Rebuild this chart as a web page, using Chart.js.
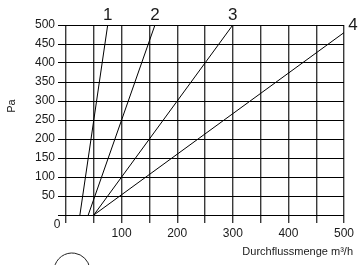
<!DOCTYPE html>
<html>
<head>
<meta charset="utf-8">
<script src="https://cdn.jsdelivr.net/npm/chart.js@4.4.1/dist/chart.umd.min.js"></script>
<style>
  html, body { margin: 0; padding: 0; background: #fff; }
  #wrap { width: 359px; height: 265px; position: relative; }
</style>
</head>
<body>
<div id="wrap"><canvas id="myChart"></canvas></div>
<script>
const lineNames = ['1', '2', '3', '4'];
// Durchflussmenge (m³/h) at start and end of each line
const flowStart = [25, 40, 50, 50];
const flowEnd = [75, 160, 300, 500];
// Pressure (Pa) at start and end of each line
const paStart = [0, 0, 0, 0];
const paEnd = [500, 500, 500, 480];

const xTicks = [100, 200, 300, 400, 500];
const yTicks = [50, 100, 150, 200, 250, 300, 350, 400, 450, 500];

const textColor = '#1a1a1a';
const fontFamily = 'Liberation Sans, Arial, sans-serif';

const datasets = lineNames.map(function(name, i) {
    return {
        label: name,
        data: [{x: flowStart[i], y: paStart[i]}, {x: flowEnd[i], y: paEnd[i]}],
        showLine: true,
        borderColor: '#000',
        borderWidth: 1,
        pointRadius: 0,
    };
});

const extraText = {
    id: 'extraText',
    afterDraw(chart) {
        const ctx = chart.ctx;
        const xs = chart.scales.x;
        const ys = chart.scales.y;
        ctx.save();
        ctx.fillStyle = textColor;
        // line numbers at the upper ends
        ctx.font = '17px ' + fontFamily;
        ctx.textAlign = 'center';
        ctx.textBaseline = 'middle';
        lineNames.forEach(function(name, i) {
            var px = xs.getPixelForValue(flowEnd[i]);
            var py = ys.getPixelForValue(paEnd[i]);
            if (flowEnd[i] >= 500) {
                ctx.fillText(name, px + 9, py - 7);
            } else {
                ctx.fillText(name, px, py - 10);
            }
        });
        // origin label
        ctx.font = '12px ' + fontFamily;
        ctx.fillText('0', xs.left - 9, ys.bottom + 10);
        // axis titles
        ctx.font = '11px ' + fontFamily;
        ctx.textAlign = 'right';
        ctx.fillText('Durchflussmenge m³/h', 353, 252);
        ctx.save();
        ctx.translate(12, 106);
        ctx.rotate(-Math.PI / 2);
        ctx.textAlign = 'center';
        ctx.fillText('Pa', 0, 0);
        ctx.restore();
        // partial circle at the bottom edge
        ctx.strokeStyle = '#222';
        ctx.lineWidth = 1;
        ctx.beginPath();
        ctx.arc(72, 271, 18, Math.PI * 1.05, Math.PI * 1.95);
        ctx.stroke();
        ctx.restore();
    }
};

new Chart('myChart', {
    type: 'scatter',
    data: { datasets: datasets },
    options: {
        responsive: true,
        maintainAspectRatio: false,
        animation: false,
        layout: { padding: { top: 25, right: 15, left: 0, bottom: 0 } },
        plugins: {
            legend: { display: false },
            tooltip: { enabled: false }
        },
        scales: {
            x: {
                type: 'linear',
                min: 0,
                max: 500,
                afterFit: function(scale) { scale.height = 50; },
                afterBuildTicks: function(scale) {
                    var t = [];
                    for (var v = 0; v <= 500; v += 50) t.push({value: v});
                    scale.ticks = t;
                },
                ticks: {
                    color: textColor,
                    font: { family: fontFamily, size: 12 },
                    padding: 3,
                    maxRotation: 0,
                    autoSkip: false,
                    callback: function(v) { return xTicks.includes(v) ? String(v) : ''; }
                },
                grid: {
                    color: '#3a3a3a',
                    lineWidth: 1.4,
                    tickLength: 8,
                },
                border: { display: false }
            },
            y: {
                type: 'linear',
                min: 0,
                max: 500,
                afterFit: function(scale) { scale.width = 66; },
                afterBuildTicks: function(scale) {
                    var t = [{value: 0}];
                    yTicks.forEach(function(v) { t.push({value: v}); });
                    scale.ticks = t;
                },
                ticks: {
                    color: textColor,
                    font: { family: fontFamily, size: 12 },
                    padding: 3,
                    autoSkip: false,
                    callback: function(v) { return yTicks.includes(v) ? String(v) : ''; }
                },
                grid: {
                    color: '#000',
                    lineWidth: 1,
                    tickLength: 8,
                },
                border: { display: false }
            }
        }
    },
    plugins: [extraText]
});
</script>
</body>
</html>
